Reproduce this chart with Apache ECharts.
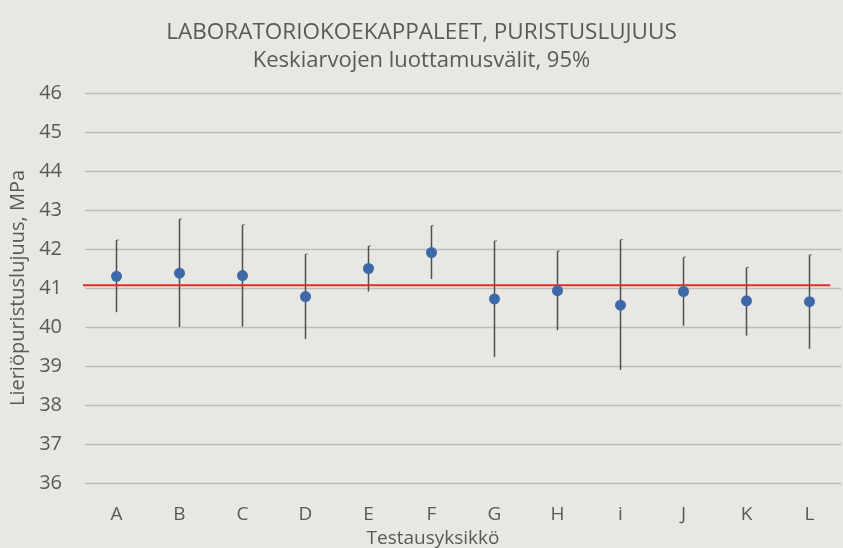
<!DOCTYPE html>
<html>
<head>
<meta charset="utf-8">
<script src="https://cdn.jsdelivr.net/npm/echarts@6/dist/echarts.min.js"></script>
<style>
html,body{margin:0;padding:0;background:#E8E7E3;}
#c{width:843px;height:548px;}
</style>
</head>
<body>
<div id="c"></div>
<script>
const categories = ['A','B','C','D','E','F','G','H','i','J','K','L'];
const means = [41.30, 41.38, 41.32, 40.78, 41.50, 41.91, 40.72, 40.93, 40.56, 40.91, 40.67, 40.65];
const upper = [42.23, 42.77, 42.62, 41.87, 42.08, 42.60, 42.21, 41.95, 42.24, 41.79, 41.53, 41.85];
const lower = [40.38, 40.00, 40.01, 39.69, 40.91, 41.23, 39.23, 39.92, 38.90, 40.03, 39.78, 39.44];
const refValue = 41.07;
const refLineX = [-0.13, 11.83];
const yTicks = {min: 36, max: 46, interval: 1};

const textColor = '#595959';
const font = '"Open Sans", "Liberation Sans", sans-serif';

const chart = echarts.init(document.getElementById('c'), null, {renderer: 'canvas'});
const errData = categories.map((c, i) => [i, lower[i], upper[i]]);

chart.setOption({
  backgroundColor: '#E8E7E3',
  animation: false,
  title: [
    {text: 'LABORATORIOKOEKAPPALEET, PURISTUSLUJUUS', left: 'center', top: 16,
     textStyle: {fontFamily: font, fontWeight: 'normal', fontSize: 22.5, color: textColor}},
    {text: 'Keskiarvojen luottamusvälit, 95%', left: 'center', top: 45,
     textStyle: {fontFamily: font, fontWeight: 'normal', fontSize: 22, color: textColor}},
    {text: 'Testausyksikkö', left: 428, textAlign: 'center', top: 524,
     textStyle: {fontFamily: font, fontWeight: 'normal', fontSize: 19, color: textColor}}
  ],
  grid: {left: 85, right: 2, top: 93, bottom: 65, containLabel: false, outerBoundsMode: 'none'},
  xAxis: [
    {type: 'category', data: categories, boundaryGap: true,
     axisLine: {show: false}, axisTick: {show: false}, splitLine: {show: false},
     axisLabel: {fontFamily: font, fontSize: 19, color: textColor, margin: 22}},
    {type: 'value', min: 0, max: 12, show: false}
  ],
  yAxis: {
    type: 'value', min: yTicks.min, max: yTicks.max, interval: yTicks.interval,
    name: 'Lieriöpuristuslujuus, MPa', nameLocation: 'middle', nameGap: 55,
    nameTextStyle: {fontFamily: font, fontSize: 20, color: textColor},
    axisLine: {show: false}, axisTick: {show: false},
    axisLabel: {fontFamily: font, fontSize: 20, color: textColor, margin: 23},
    splitLine: {lineStyle: {color: '#BDBCB8', width: 1.3}}
  },
  series: [
    {
      type: 'custom', xAxisIndex: 0, z: 1, data: errData,
      renderItem: function (params, api) {
        const lo = api.coord([api.value(0), api.value(1)]);
        const hi = api.coord([api.value(0), api.value(2)]);
        return {
          type: 'group',
          children: [
            {type: 'line', shape: {x1: lo[0], y1: lo[1], x2: hi[0], y2: hi[1]},
             style: {stroke: '#4F4F4F', lineWidth: 1.5}},
            {type: 'line', shape: {x1: hi[0], y1: hi[1], x2: hi[0] + 2.5, y2: hi[1]},
             style: {stroke: '#777777', lineWidth: 1}}
          ]
        };
      }
    },
    {
      type: 'line', xAxisIndex: 1, z: 2, clip: false, symbol: 'none',
      data: refLineX.map(x => [x, refValue]),
      lineStyle: {color: '#DE2E28', width: 2.2}
    },
    {
      type: 'scatter', xAxisIndex: 0, z: 3, data: means,
      symbol: 'circle', symbolSize: 11,
      itemStyle: {color: '#3D69A9', opacity: 1}
    }
  ]
});
</script>
</body>
</html>
